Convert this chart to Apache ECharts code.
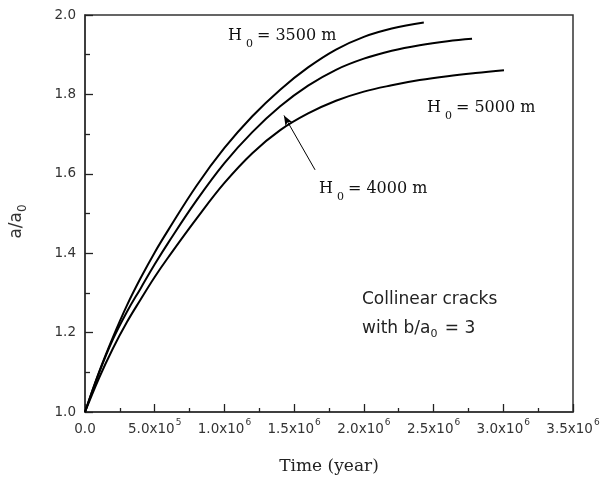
<!DOCTYPE html>
<html>
<head>
<meta charset="utf-8">
<script src="https://cdn.jsdelivr.net/npm/echarts@6/dist/echarts.min.js"></script>
<style>html,body{margin:0;padding:0;background:#fff;}#c{width:605px;height:477px;}</style>
</head>
<body>
<div id="c"></div>
<script>
// ---- data (time in years, ratio a/a0) ----
const t3500 = [0, 1e5, 2e5, 3e5, 4e5, 5e5, 6e5, 8e5, 1.0e6, 1.2e6, 1.4e6, 1.6e6, 1.8e6, 2.0e6, 2.2e6, 2.43e6];
const v3500 = [1.0, 1.1, 1.188, 1.268, 1.338, 1.402, 1.46, 1.57, 1.665, 1.745, 1.812, 1.868, 1.913, 1.945, 1.966, 1.981];
const t4000 = [0, 1e5, 2e5, 3e5, 4e5, 5e5, 6e5, 8e5, 1.0e6, 1.2e6, 1.4e6, 1.6e6, 1.8e6, 2.0e6, 2.2e6, 2.4e6, 2.6e6, 2.776e6];
const v4000 = [1.0, 1.098, 1.183, 1.252, 1.312, 1.372, 1.428, 1.533, 1.627, 1.705, 1.77, 1.822, 1.862, 1.89, 1.91, 1.924, 1.934, 1.94];
const t5000 = [0, 1e5, 2e5, 3e5, 4e5, 5e5, 6e5, 8e5, 1.0e6, 1.2e6, 1.4e6, 1.6e6, 1.8e6, 2.0e6, 2.2e6, 2.4e6, 2.6e6, 2.8e6, 3.005e6];
const v5000 = [1.0, 1.085, 1.16, 1.226, 1.284, 1.34, 1.391, 1.487, 1.577, 1.652, 1.71, 1.752, 1.784, 1.807, 1.823, 1.836, 1.846, 1.854, 1.861];
const xTickMantissa = ['0.0', '5.0', '1.0', '1.5', '2.0', '2.5', '3.0', '3.5'];
const xTickExponent = ['', '5', '6', '6', '6', '6', '6', '6'];
const seriesNames = ['H0 = 3500 m', 'H0 = 4000 m', 'H0 = 5000 m'];
const arrowFrom = [1.65e6, 1.61];
const arrowTo = [1.427e6, 1.747];

const zip = (a, b) => a.map((x, i) => [x, b[i]]);
const chart = echarts.init(document.getElementById('c'));
const sansF = '"DejaVu Sans", sans-serif';
const serifF = '"DejaVu Serif", serif';

const lineBase = {
  type: 'line', smooth: 0.4, showSymbol: false, symbol: 'none',
  lineStyle: { color: '#000', width: 2 }, z: 3
};

const hLabel = (val) => ({
  text: '{m|H}{s|0}{m|= ' + val + ' m}',
  rich: {
    m: { fontFamily: serifF, fontSize: 16, fill: '#111', color: '#111' },
    s: { fontFamily: serifF, fontSize: 11, fill: '#111', color: '#111', padding: [16, 4, 0, 4] }
  }
});

chart.setOption({
  animation: false,
  backgroundColor: '#fff',
  grid: {
    left: 85, right: 32, top: 15, bottom: 65, outerBoundsMode: 'none', containLabel: false,
    show: true, borderColor: '#333', borderWidth: 1.5, backgroundColor: 'transparent'
  },
  xAxis: {
    type: 'value', min: 0, max: 3.5e6, interval: 5e5,
    axisLine: { lineStyle: { color: '#333', width: 1.5 } },
    axisTick: { inside: true, length: 8, lineStyle: { color: '#222', width: 1.3 } },
    minorTick: { show: true, splitNumber: 2, length: 4, lineStyle: { color: '#222', width: 1.3 } },
    splitLine: { show: false },
    axisLabel: {
      margin: 6, color: '#333', fontFamily: sansF, fontSize: 13.5, lineHeight: 22,
      showMaxLabel: true, showMinLabel: true,
      formatter: (v) => {
        const i = Math.round(v / 5e5);
        return xTickExponent[i] ? xTickMantissa[i] + 'x10{s|' + xTickExponent[i] + '}' : xTickMantissa[i];
      },
      rich: {
        s: { fontSize: 9, fontFamily: sansF, color: '#333', lineHeight: 10, padding: [0, 0, 12, 1] }
      }
    },
    name: 'Time (year)', nameLocation: 'middle', nameGap: 46,
    nameTextStyle: { fontFamily: serifF, fontSize: 17, color: '#222' }
  },
  yAxis: {
    type: 'value', min: 1.0, max: 2.0, interval: 0.2,
    axisLine: { lineStyle: { color: '#333', width: 1.5 } },
    axisTick: { inside: true, length: 8, lineStyle: { color: '#222', width: 1.3 } },
    minorTick: { show: true, splitNumber: 2, length: 5, lineStyle: { color: '#222', width: 1.3 } },
    splitLine: { show: false },
    axisLabel: { margin: 9, color: '#333', fontFamily: sansF, fontSize: 13.5, formatter: (v) => v.toFixed(1) },
    name: 'a/a{s|0}', nameLocation: 'middle', nameRotate: 90, nameGap: 56,
    nameTextStyle: {
      fontFamily: sansF, fontSize: 17, color: '#333', padding: [0, 16, 0, 0],
      rich: { s: { fontFamily: sansF, fontSize: 12, color: '#333', padding: [12, 0, 0, 0] } }
    }
  },
  series: [
    Object.assign({}, lineBase, { name: seriesNames[0], data: zip(t3500, v3500) }),
    Object.assign({}, lineBase, {
      name: seriesNames[1], data: zip(t4000, v4000),
      markLine: {
        silent: true, symbol: ['none', 'arrow'], symbolSize: [6, 10],
        lineStyle: { color: '#000', width: 1, type: 'solid' }, label: { show: false },
        data: [[{ coord: arrowFrom }, { coord: arrowTo }]]
      }
    }),
    Object.assign({}, lineBase, { name: seriesNames[2], data: zip(t5000, v5000) })
  ],
  graphic: [
    { type: 'text', left: 228, top: 28, style: hLabel('3500') },
    { type: 'text', left: 427, top: 100, style: hLabel('5000') },
    { type: 'text', left: 319, top: 181, style: hLabel('4000') },
    { type: 'text', left: 362, top: 291, style: { text: 'Collinear cracks', font: '17px ' + sansF, fill: '#222' } },
    { type: 'text', left: 362, top: 320, style: {
        text: 'with b/a{s|0} = 3', font: '17px ' + sansF, fill: '#222',
        rich: { s: { fontFamily: sansF, fontSize: 11, fill: '#222', padding: [12, 2, 0, 0] } }
      } }
  ]
});
</script>
</body>
</html>
